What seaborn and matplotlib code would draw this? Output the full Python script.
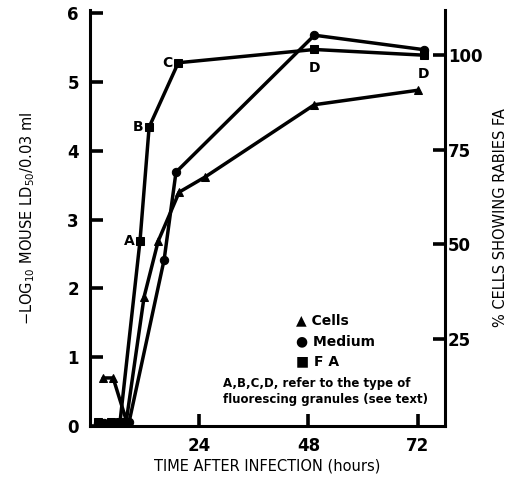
import matplotlib
matplotlib.use("Agg")
import matplotlib.pyplot as plt
import seaborn as sns
import pandas as pd

# --- DATA ---
cells_hours = [2.9, 5.1, 8.0, 11.9, 15.0, 19.6, 25.3, 49.3, 72.0]
cells_titer = [0.70, 0.70, 0.08, 1.88, 2.69, 3.40, 3.62, 4.67, 4.88]

medium_hours = [1.8, 3.1, 4.6, 6.4, 8.6, 16.3, 18.9, 49.3, 73.3]
medium_titer = [0.05, 0.05, 0.05, 0.05, 0.06, 2.42, 3.69, 5.68, 5.47]

fa_hours = [1.8, 4.6, 6.6, 11.0, 13.0, 19.4, 49.3, 73.3]
fa_pct = [3, 3, 3, 51, 81, 98, 101.5, 100]
fa_letters = ["", "", "", "A", "B", "C", "D", "D"]

left_ticks = [0, 1, 2, 3, 4, 5, 6]
right_ticks = [25, 50, 75, 100]
x_ticks = [24, 48, 72]

cells = pd.DataFrame({"hours": cells_hours, "titer": cells_titer})
medium = pd.DataFrame({"hours": medium_hours, "titer": medium_titer})
fa = pd.DataFrame({"hours": fa_hours, "pct": fa_pct, "label": fa_letters})

sns.set_style("ticks")
plt.rcParams['font.family'] = ['DejaVu Sans']
plt.rcParams['text.color'] = 'black'
plt.rcParams['axes.labelcolor'] = 'black'
plt.rcParams['xtick.color'] = 'black'
plt.rcParams['ytick.color'] = 'black'
plt.rcParams['axes.edgecolor'] = 'black'

fig = plt.figure(figsize=(5.11, 4.87), dpi=100)
ax = fig.add_axes([0.176, 0.125, 0.695, 0.855])
ax2 = ax.twinx()

line_kw = dict(color="black", linewidth=2.5, markersize=6, markeredgecolor="black")
sns.lineplot(data=cells, x="hours", y="titer", marker="^", ax=ax, **line_kw)
sns.lineplot(data=medium, x="hours", y="titer", marker="o", ax=ax, **line_kw)
sns.lineplot(data=fa, x="hours", y="pct", marker="s", ax=ax2, **line_kw)

# letters for the fluorescing granule types
for _, r in fa.iterrows():
    if r["label"] in ("A", "B", "C"):
        ax2.text(r["hours"] - 1.2, r["pct"], r["label"], ha="right", va="center",
                 fontsize=10, fontweight="bold")
    elif r["label"] == "D":
        ax2.text(r["hours"], r["pct"] - 3, r["label"], ha="center", va="top",
                 fontsize=10, fontweight="bold")

ax.set_xlim(0, 78)
ax.set_ylim(0, 6.05)
ax2.set_ylim(2, 112)

ax.set_xticks(x_ticks)
ax.set_yticks(left_ticks)
ax2.set_yticks(right_ticks)

for a in (ax, ax2):
    a.spines["top"].set_visible(False)
    for s in a.spines.values():
        s.set_linewidth(2.2)
    a.tick_params(direction="in", length=9, width=2.6, labelsize=12)
    for lab in a.get_xticklabels() + a.get_yticklabels():
        lab.set_fontweight("bold")
ax.spines["right"].set_visible(False)
ax2.spines["left"].set_visible(False)
ax2.spines["bottom"].set_visible(False)
ax.tick_params(axis="x", pad=8)
ax.tick_params(axis="y", pad=8)
ax2.tick_params(axis="y", pad=2)

ax.set_xlabel("TIME AFTER INFECTION (hours)", fontsize=10.5, labelpad=2)
ax.set_ylabel(r"$-$LOG$_{10}$ MOUSE LD$_{50}$/0.03 ml", fontsize=10.5, labelpad=22)
ax2.set_ylabel("% CELLS SHOWING RABIES FA", fontsize=10.5, labelpad=8)

# legend as text block
leg_x = 0.58
ax.text(leg_x, 0.245, "\u25B2 Cells", transform=ax.transAxes, fontsize=10, fontweight="bold")
ax.text(leg_x, 0.195, "\u25CF Medium", transform=ax.transAxes, fontsize=10, fontweight="bold")
ax.text(leg_x, 0.145, "\u25A0 F A", transform=ax.transAxes, fontsize=10, fontweight="bold")
ax.text(0.375, 0.055, "A,B,C,D, refer to the type of\nfluorescing granules (see text)",
        transform=ax.transAxes, fontsize=8.5, fontweight="bold", linespacing=1.3)

fig.savefig("out.png", dpi=100)
